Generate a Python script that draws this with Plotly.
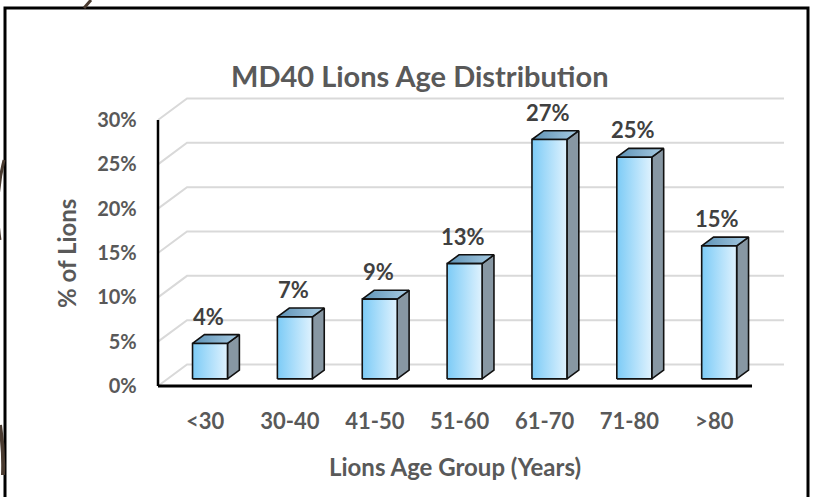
import plotly.graph_objects as go

# ---- data ----
categories = ["<30", "30-40", "41-50", "51-60", "61-70", "71-80", ">80"]
percent_values = [4, 7, 9, 13, 27, 25, 15]
y_ticks = [0, 5, 10, 15, 20, 25, 30]
y_tick_labels = [f"{t}%" for t in y_ticks]
title_text = "MD40 Lions Age Distribution"
x_title = "Lions Age Group (Years)"
y_title = "% of Lions"

# ---- geometry / style (pseudo-3D projection in data units) ----
W, H = 815, 497
FONT = "Lato"
TXT = "#595959"
DDX, DDY = 0.342, 2.425      # full-depth offset (x units, y %)
D0 = 0.33                    # depth at which bar front face sits
SIDE = 0.41                  # bar depth
HW = 0.206                   # half bar width
XR = [-0.55, 6.877]
YR = [-0.4, 33.0]
px_per_x = 84.86
px_per_y = 8.867
x0_px = 158 - (0.05) * px_per_x
x1_px = 158 + (XR[1] + 0.5) * px_per_x
y0_px = 386 + 0.4 * px_per_y
y1_px = 386 - 33.0 * px_per_y

fig = go.Figure()

# back wall + left wall gridlines
gx, gy = [], []
for t in y_ticks:
    gx += [-0.5, -0.5 + DDX, XR[1], None]
    gy += [t, t + DDY, t + DDY, None]
fig.add_trace(go.Scatter(x=gx, y=gy, mode="lines",
                         line=dict(color="#d9d9d9", width=2),
                         hoverinfo="skip", showlegend=False))

# bars
dx, dy = SIDE * DDX, SIDE * DDY
for i, v in enumerate(percent_values):
    cx = i + D0 * DDX
    yb = D0 * DDY
    xl, xr = cx - HW, cx + HW
    yt = yb + v
    # side face
    fig.add_trace(go.Scatter(
        x=[xr, xr + dx, xr + dx, xr, xr], y=[yb, yb + dy, yt + dy, yt, yb],
        mode="lines", fill="toself", fillcolor="#8797a3",
        line=dict(color="#111111", width=1.6), hoverinfo="skip", showlegend=False))
    # top face
    fig.add_trace(go.Scatter(
        x=[xl, xr, xr + dx, xl + dx, xl], y=[yt, yt, yt + dy, yt + dy, yt],
        mode="lines", fill="toself",
        fillgradient=dict(type="horizontal",
                          colorscale=[[0, "#5d92b6"], [1, "#a8cbe2"]]),
        line=dict(color="#111111", width=1.6), hoverinfo="skip", showlegend=False))
    # front face
    fig.add_trace(go.Scatter(
        x=[xl, xr, xr, xl, xl], y=[yb, yb, yt, yt, yb],
        mode="lines", fill="toself",
        fillgradient=dict(type="horizontal",
                          colorscale=[[0, "#7ccbf6"], [1, "#dff2fe"]]),
        line=dict(color="#111111", width=1.6), hoverinfo="skip", showlegend=False))
    fig.add_annotation(x=cx - 0.02, y=yt + dy, text=f"<b>{v}%</b>", showarrow=False,
                       yanchor="bottom", yshift=3,
                       font=dict(family=FONT, size=22, color="#404040"))

# front axis lines
fig.add_trace(go.Scatter(x=[-0.5, -0.5], y=[0, 30], mode="lines",
                         line=dict(color="#000000", width=2.5),
                         hoverinfo="skip", showlegend=False))
fig.add_trace(go.Scatter(x=[-0.5, 6.5], y=[0, 0], mode="lines",
                         line=dict(color="#000000", width=3),
                         hoverinfo="skip", showlegend=False))

fig.update_layout(
    template="none",
    width=W, height=H,
    margin=dict(l=0, r=0, t=0, b=0, pad=0),
    paper_bgcolor="white", plot_bgcolor="rgba(0,0,0,0)",
    showlegend=False,
    xaxis=dict(domain=[x0_px / W, x1_px / W], range=XR, automargin=False,
               showgrid=False, zeroline=False, showline=False,
               tickmode="array",
               tickvals=[i + 0.055 for i in range(len(categories))],
               ticktext=[f"<b>{c}</b>" for c in categories],
               ticks="", ticklabelstandoff=16,
               tickfont=dict(family=FONT, size=22, color=TXT)),
    yaxis=dict(domain=[1 - y0_px / H, 1 - y1_px / H], range=YR, automargin=False,
               showgrid=False, zeroline=False, showline=False,
               tickmode="array", tickvals=y_ticks,
               ticktext=[f"<b>{t}</b>" for t in y_tick_labels],
               ticks="", ticklabelstandoff=16,
               tickfont=dict(family=FONT, size=20, color=TXT)),
    font=dict(family=FONT, color=TXT),
)

# titles
fig.add_annotation(xref="paper", yref="paper", x=420 / W, y=1 - 75 / H,
                   xanchor="center", yanchor="middle",
                   text=f"<b>{title_text}</b>", showarrow=False,
                   font=dict(family=FONT, size=29, color=TXT))
fig.add_annotation(xref="paper", yref="paper", x=455 / W, y=1 - 466 / H,
                   xanchor="center", yanchor="middle",
                   text=f"<b>{x_title}</b>", showarrow=False,
                   font=dict(family=FONT, size=24, color=TXT))
fig.add_annotation(xref="paper", yref="paper", x=66 / W, y=1 - 254 / H,
                   xanchor="center", yanchor="middle",
                   text=f"<b>{y_title}</b>", showarrow=False, textangle=-90,
                   font=dict(family=FONT, size=24, color=TXT))

# outer frame and decorative strokes outside it
fig.add_shape(type="path", xref="paper", yref="paper",
              path=f"M {5/W} 0 L {5/W} {1-8/H} L {808/W} {1-8/H} L {808/W} 0",
              line=dict(color="#000000", width=3))
fig.add_shape(type="path", xref="paper", yref="paper",
              path=f"M {84/W} {1-8/H} L {91/W} 1",
              line=dict(color="#4a3b30", width=3))
fig.add_shape(type="path", xref="paper", yref="paper",
              path=f"M {4/W} {1-160/H} Q {-6/W} {1-200/H} {0/W} {1-240/H}",
              line=dict(color="#4a3b30", width=3))
fig.add_shape(type="path", xref="paper", yref="paper",
              path=f"M {0/W} {1-425/H} Q {4/W} {1-450/H} {3/W} {1-475/H}",
              line=dict(color="#4a3b30", width=4))

fig.write_html("out.html")
